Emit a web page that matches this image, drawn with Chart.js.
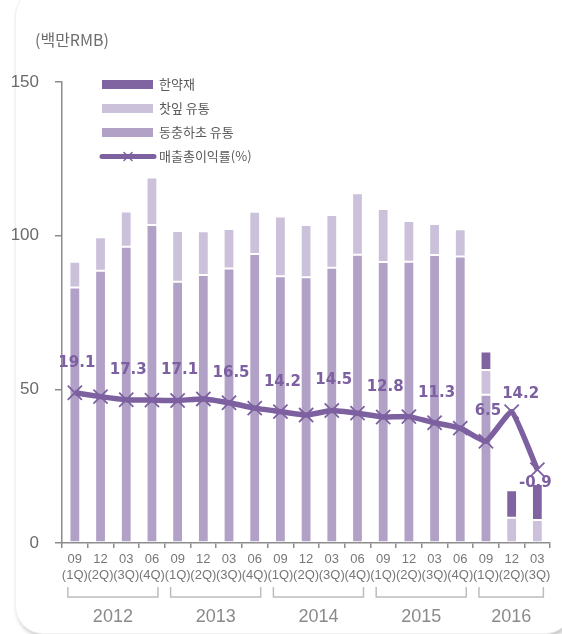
<!DOCTYPE html>
<html>
<head>
<meta charset="utf-8">
<script src="https://cdn.jsdelivr.net/npm/chart.js@4/dist/chart.umd.min.js"></script>
<style>
    html, body { margin: 0; padding: 0; background: #fff; overflow: hidden; }
    #wrap { position: relative; width: 562px; height: 634px; }
    #card {
        position: absolute; left: 15px; top: -12px; width: 556px; height: 644px;
        border-radius: 28px; background: #fff;
        border: 1px solid #f0f0f0;
        box-shadow: 2px 3px 4px rgba(0, 0, 0, 0.22);
    }
    #chartBox { position: absolute; left: 0; top: 0; width: 562px; height: 634px; }
</style>
</head>
<body>
<div id="wrap">
    <div id="card"></div>
    <div id="chartBox"><canvas id="salesChart"></canvas></div>
</div>
<script>
/* data */

const months = ["09", "12", "03", "06", "09", "12", "03", "06", "09", "12", "03", "06", "09", "12", "03", "06", "09", "12", "03"];
const quarterTags = ["(1Q)", "(2Q)", "(3Q)", "(4Q)", "(1Q)", "(2Q)", "(3Q)", "(4Q)", "(1Q)", "(2Q)", "(3Q)", "(4Q)", "(1Q)", "(2Q)", "(3Q)", "(4Q)", "(1Q)", "(2Q)", "(3Q)"];
const years = ["2012", "2013", "2014", "2015", "2016"];
const yearSpans = [4, 4, 4, 4, 3];

const cordycepsSales = [83.1, 88.6, 96.4, 103.5, 85.0, 87.2, 89.3, 94.0, 86.8, 86.5, 89.6, 93.8, 91.4, 91.5, 93.7, 93.2, 48.2, null, null];
const teaLeafSales = [8.4, 10.9, 11.5, 15.4, 16.5, 14.2, 12.9, 13.8, 19.4, 17.0, 17.1, 20.0, 17.3, 13.3, 10.1, 8.9, 8.1, 8.2, 7.5];
const herbalSales = [null, null, null, null, null, null, null, null, null, null, null, null, null, null, null, null, 6.0, 9.0, 11.7];
const grossMargin = [19.1, 18.1, 17.3, 17.2, 17.1, 17.5, 16.5, 15.1, 14.2, 13.3, 14.5, 13.8, 12.8, 12.9, 11.3, 9.9, 6.5, 14.2, -0.9];
const labeledPoints = [0, 2, 4, 6, 8, 10, 12, 14, 16, 17, 18];

const yTicks = [0, 50, 100, 150];

/* colours */

const darkPurple = "#8064a2";
const lightPurple = "#ccc1da";
const midPurple = "#b2a1c7";
const lineColor = "#7d60a0";

const legendItems = [
    { text: "한약재", color: darkPurple, type: "bar" },
    { text: "찻잎 유통", color: lightPurple, type: "bar" },
    { text: "동충하초 유통", color: midPurple, type: "bar" },
    { text: "매출총이익률(%)", color: lineColor, type: "line" }
];

/* extras drawn on top: title, legend, point labels, year brackets */

const extrasPlugin = {
    id: "extras",
    afterDatasetsDraw(chart) {
        const ctx = chart.ctx;
        const xScale = chart.scales.x;
        ctx.save();

        // unit title
        ctx.fillStyle = "#6e6e6e";
        ctx.font = "16px 'Noto Sans CJK KR'";
        ctx.textAlign = "left";
        ctx.textBaseline = "middle";
        ctx.fillText("(백만RMB)", 35, 40);

        // legend
        legendItems.forEach((item, i) => {
            const y = 84.5 + i * 24;
            if (item.type === "bar") {
                ctx.fillStyle = item.color;
                ctx.fillRect(102, y - 4.5, 51, 9);
            } else {
                ctx.strokeStyle = item.color;
                ctx.lineWidth = 5;
                ctx.lineCap = "round";
                ctx.beginPath();
                ctx.moveTo(102, y);
                ctx.lineTo(154, y);
                ctx.stroke();
                ctx.lineWidth = 1.5;
                ctx.beginPath();
                ctx.moveTo(124, y - 4); ctx.lineTo(132, y + 4);
                ctx.moveTo(132, y - 4); ctx.lineTo(124, y + 4);
                ctx.stroke();
            }
            ctx.fillStyle = "#5a5a5a";
            ctx.font = "13px 'Noto Sans CJK KR'";
            ctx.fillText(item.text, 159, y);
        });

        // point labels
        const lineMeta = chart.getDatasetMeta(3);
        ctx.font = "bold 15px 'DejaVu Sans'";
        ctx.fillStyle = lineColor;
        ctx.textAlign = "center";
        labeledPoints.forEach(i => {
            const pt = lineMeta.data[i];
            let dx = 2, dy = -30;
            if (i === 17) { dx = 9; dy = -18; }
            if (i === 18) { dx = -2; dy = 13; }
            ctx.fillText(grossMargin[i].toFixed(1), pt.x + dx, pt.y + dy);
        });

        // year brackets
        ctx.strokeStyle = "#bdbdbd";
        ctx.lineWidth = 1.5;
        ctx.lineCap = "butt";
        ctx.fillStyle = "#8a8a8a";
        ctx.font = "18px 'Liberation Sans'";
        let start = 0;
        years.forEach((year, i) => {
            const end = start + yearSpans[i] - 1;
            const x1 = xScale.getPixelForValue(start) - 7;
            const x2 = xScale.getPixelForValue(end) + 6;
            ctx.beginPath();
            ctx.moveTo(x1, 587);
            ctx.lineTo(x1, 597);
            ctx.lineTo(x2, 597);
            ctx.lineTo(x2, 587);
            ctx.stroke();
            ctx.fillText(year, (x1 + x2) / 2, 617);
            start = end + 1;
        });

        ctx.restore();
    }
};

/* chart */

const barStyle = {
    type: "bar",
    yAxisID: "y",
    stack: "sales",
    order: 2,
    barPercentage: 0.42,
    categoryPercentage: 1,
    borderWidth: 1,
    borderColor: "rgba(255,255,255,0.45)",
    borderSkipped: false
};

new Chart(document.querySelector("#salesChart"), {
    data: {
        labels: months.map((m, i) => [m, quarterTags[i]]),
        datasets: [
            { ...barStyle, label: "동충하초 유통", data: cordycepsSales, backgroundColor: midPurple },
            { ...barStyle, label: "찻잎 유통", data: teaLeafSales, backgroundColor: lightPurple },
            { ...barStyle, label: "한약재", data: herbalSales, backgroundColor: darkPurple },
            {
                type: "line",
                label: "매출총이익률(%)",
                data: grossMargin,
                yAxisID: "y2",
                order: 0,
                borderColor: lineColor,
                borderWidth: 5.5,
                tension: 0.12,
                pointStyle: "crossRot",
                pointRadius: 10,
                pointBorderWidth: 1.8,
                pointBorderColor: lineColor,
                pointBackgroundColor: lineColor
            }
        ]
    },
    options: {
        responsive: true,
        maintainAspectRatio: false,
        animation: false,
        layout: {
            padding: { top: 82, right: 5, left: 0, bottom: 0 }
        },
        plugins: {
            legend: { display: false },
            tooltip: { enabled: false }
        },
        scales: {
            x: {
                stacked: true,
                afterFit: scale => { scale.height = 91; },
                grid: {
                    offset: true,
                    drawOnChartArea: false,
                    tickLength: 5,
                    color: "#8c8c8c",
                    lineWidth: 1.5
                },
                border: { color: "#8c8c8c", width: 1.5 },
                ticks: {
                    color: "#777",
                    padding: 4,
                    maxRotation: 0,
                    autoSkip: false,
                    font: { family: "'Liberation Sans'", size: 13, lineHeight: 1.2 }
                }
            },
            y: {
                stacked: true,
                min: 0,
                max: 150,
                afterFit: scale => { scale.width = 62; },
                afterBuildTicks: scale => { scale.ticks = yTicks.map(v => ({ value: v })); },
                grid: {
                    drawOnChartArea: false,
                    tickLength: 7,
                    color: "#8c8c8c",
                    lineWidth: 1.5
                },
                border: { color: "#8c8c8c", width: 1.5 },
                ticks: {
                    color: "#6b6b6b",
                    padding: 16,
                    font: { family: "'Liberation Sans'", size: 17 }
                }
            },
            y2: {
                display: false,
                min: -20,
                max: 100
            }
        }
    },
    plugins: [extrasPlugin]
});
</script>
</body>
</html>
